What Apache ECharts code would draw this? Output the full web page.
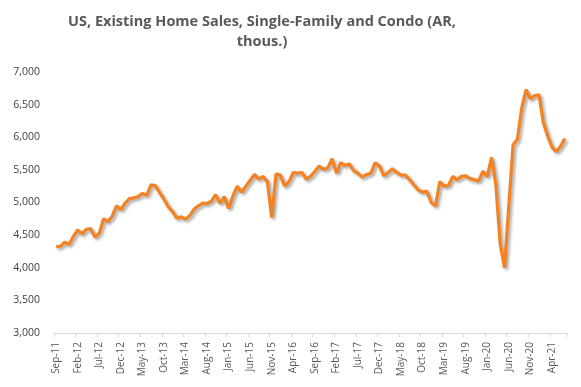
<!DOCTYPE html>
<html>
<head>
<meta charset="utf-8">
<script src="https://cdn.jsdelivr.net/npm/echarts@6/dist/echarts.min.js"></script>
<style>
html,body{margin:0;padding:0;background:#fff;}
#chart{width:581px;height:387px;}
</style>
</head>
<body>
<div id="chart"></div>
<script>
const titleText = "US, Existing Home Sales, Single-Family and Condo (AR,\nthous.)";
const monthNames = ["Jan","Feb","Mar","Apr","May","Jun","Jul","Aug","Sep","Oct","Nov","Dec"];
// Monthly categories Sep-11 .. Jul-21
const categories = [];
for (let y = 2011, m = 8; !(y === 2021 && m === 7); ) {
  categories.push(monthNames[m] + "-" + String(y).slice(2));
  m++; if (m === 12) { m = 0; y++; }
}
const sales = [
  4320,4330,4390,4360,4480,4580,4520,4590,4600,4470,
  4530,4750,4710,4790,4950,4890,4990,5060,5070,5090,
  5140,5110,5270,5260,5150,5050,4935,4860,4760,4780,
  4745,4800,4900,4950,4990,4985,5020,5120,4990,5090,
  4910,5100,5250,5160,5250,5340,5430,5360,5400,5320,
  4770,5440,5420,5250,5320,5460,5450,5460,5360,5400,
  5480,5560,5510,5530,5670,5450,5610,5570,5590,5490,
  5450,5390,5430,5450,5610,5560,5410,5460,5520,5460,
  5420,5420,5350,5270,5190,5160,5170,5000,4950,5320,
  5250,5260,5400,5350,5400,5410,5365,5350,5330,5480,
  5400,5690,5270,4370,4000,4950,5890,5970,6450,6730,
  6590,6640,6650,6230,6020,5850,5780,5860,5980
];
const yMin = 3000, yMax = 7000, yStep = 500;

const chart = echarts.init(document.getElementById('chart'), null, {renderer:'canvas'});
chart.setOption({
  animation: false,
  backgroundColor: '#ffffff',
  graphic: [{
    type: 'text',
    x: 262,
    y: 12,
    silent: true,
    style: {
      text: titleText,
      align: 'center',
      verticalAlign: 'top',
      fontFamily: 'Open Sans',
      fontWeight: 'bold',
      fontSize: 14.5,
      lineHeight: 20,
      fill: '#595959'
    }
  }],
  grid: { left: 54, right: 14, top: 72, bottom: 54 },
  xAxis: {
    type: 'category',
    data: categories,
    boundaryGap: true,
    axisLine: { show: true, lineStyle: { color: '#d9d9d9', width: 1 } },
    axisTick: { show: true, interval: 4, length: 4, lineStyle: { color: '#d9d9d9' } },
    axisLabel: {
      interval: 4,
      rotate: 90,
      margin: 9,
      color: '#595959',
      fontFamily: 'Open Sans',
      fontSize: 10
    },
    splitLine: { show: false }
  },
  yAxis: {
    type: 'value',
    min: yMin, max: yMax, interval: yStep,
    axisLine: { show: false },
    axisTick: { show: false },
    splitLine: { show: false },
    axisLabel: {
      margin: 14,
      color: '#404040',
      fontFamily: 'Open Sans',
      fontSize: 10.5,
      formatter: v => v.toLocaleString('en-US')
    }
  },
  series: [{
    type: 'line',
    data: sales,
    symbol: 'none',
    smooth: false,
    lineStyle: {
      color: '#F58220',
      width: 3.2,
      shadowColor: 'rgba(0,0,0,0.35)',
      shadowBlur: 3,
      shadowOffsetX: 2,
      shadowOffsetY: 2
    }
  }]
});
</script>
</body>
</html>
